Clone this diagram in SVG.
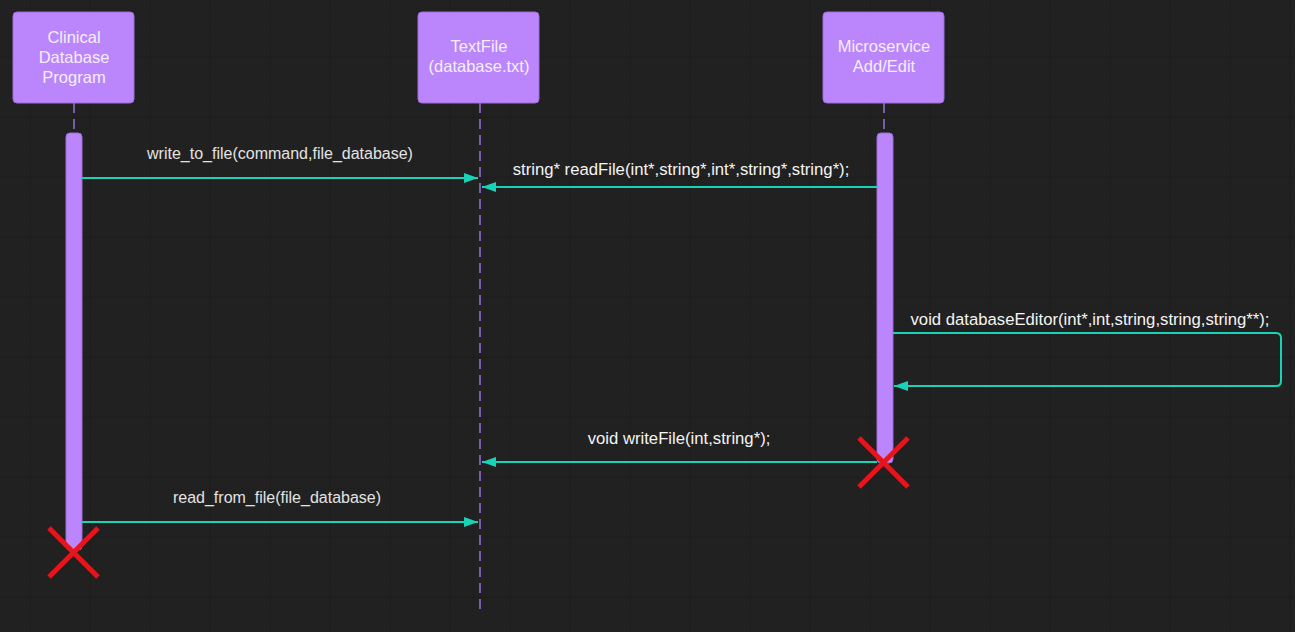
<svg xmlns="http://www.w3.org/2000/svg" width="1295" height="632" viewBox="0 0 1295 632">
<defs>
<pattern id="minor" width="12" height="12" patternUnits="userSpaceOnUse" x="6" y="9">
<path d="M12 0V12M0 12H12" fill="none" stroke="#1e1e1e" stroke-width="1"/>
</pattern>
<pattern id="major" width="60" height="60" patternUnits="userSpaceOnUse" x="30" y="57">
<path d="M0 0V60M0 0H60" fill="none" stroke="#191919" stroke-width="1"/>
</pattern>
<marker id="arrow" viewBox="0 0 14 10" refX="14" refY="5" markerWidth="14" markerHeight="10" markerUnits="userSpaceOnUse" orient="auto">
<path d="M0 0L14 5L0 10Z" fill="#19d3b9"/>
</marker>
<style>
.box{fill:#bb86fc;stroke:#9d6cd6;stroke-width:1}
.ptext{font-family:"Liberation Sans",Arial,sans-serif;font-size:16.5px;fill:#f4eefc;text-anchor:middle}
.life{stroke:#9b6fd9;stroke-width:1.5;stroke-dasharray:10 6;fill:none}
.act{fill:#bb86fc;stroke:#9d6cd6;stroke-width:1}
.msg{stroke:#19d3b9;stroke-width:2;fill:none;marker-end:url(#arrow)}
.mtext{font-family:"Liberation Sans",Arial,sans-serif;font-size:16px;fill:#e3e3e3;text-anchor:middle}
.mtext2{font-family:"Liberation Sans",Arial,sans-serif;font-size:16.7px;fill:#f4f4f4;text-anchor:middle}
.kill{stroke:#e3161d;stroke-width:5;fill:none}
</style>
</defs>
<rect width="1295" height="632" fill="#212121"/>
<rect width="1295" height="632" fill="url(#minor)"/>
<rect width="1295" height="632" fill="url(#major)"/>

<g id="lifelines">
<line class="life" x1="74" y1="103" x2="74" y2="545"/>
<line class="life" x1="480" y1="103" x2="480" y2="612"/>
<line class="life" x1="884" y1="103" x2="884" y2="460"/>
</g>

<g id="p-clinical">
<rect class="box" x="13" y="12" width="121" height="91" rx="4"/>
<text class="ptext" x="74" y="43">Clinical</text>
<text class="ptext" x="74" y="63">Database</text>
<text class="ptext" x="74" y="83">Program</text>
</g>
<g id="p-textfile">
<rect class="box" x="418" y="12" width="121" height="91" rx="4"/>
<text class="ptext" x="479" y="52">TextFile</text>
<text class="ptext" x="479" y="72">(database.txt)</text>
</g>
<g id="p-microservice">
<rect class="box" x="823" y="12" width="121" height="91" rx="4"/>
<text class="ptext" x="884" y="52">Microservice</text>
<text class="ptext" x="884" y="72">Add/Edit</text>
</g>

<g id="activations">
<rect class="act" x="66" y="133" width="16" height="417" rx="4"/>
<rect class="act" x="877" y="133" width="16" height="330" rx="4"/>
</g>

<g id="connectors">
<line class="msg" x1="82" y1="178" x2="478" y2="178"/>
<text class="mtext" x="280" y="159">write_to_file(command,file_database)</text>
<line class="msg" x1="877" y1="187" x2="482" y2="187"/>
<text class="mtext2" x="681" y="175">string* readFile(int*,string*,int*,string*,string*);</text>
<path class="msg" d="M893 333H1276Q1281 333 1281 338V381Q1281 386 1276 386H894"/>
<text class="mtext2" x="1090" y="325">void databaseEditor(int*,int,string,string,string**);</text>
<line class="msg" x1="877" y1="462" x2="482" y2="462"/>
<text class="mtext2" x="679" y="444">void writeFile(int,string*);</text>
<line class="msg" x1="82" y1="522" x2="478" y2="522"/>
<text class="mtext" x="277" y="503">read_from_file(file_database)</text>
</g>

<g id="destroy-microservice">
<path class="kill" d="M859 438L908 487M908 438L859 487"/>
</g>
<g id="destroy-clinical">
<path class="kill" d="M49 528L98 577M98 528L49 577"/>
</g>
</svg>
